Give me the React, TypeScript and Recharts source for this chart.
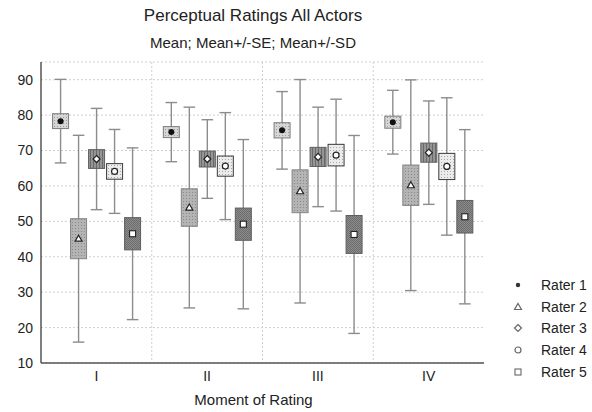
import { ComposedChart, Bar, XAxis, YAxis, CartesianGrid } from 'recharts'

const moments = ['I', 'II', 'III', 'IV']
const raterNames = ['Rater 1', 'Rater 2', 'Rater 3', 'Rater 4', 'Rater 5']

// mean per moment
const rater1Mean = [78.3, 75.2, 75.7, 78.0]
const rater2Mean = [45.1, 53.9, 58.5, 60.2]
const rater3Mean = [67.6, 67.6, 68.2, 69.4]
const rater4Mean = [64.1, 65.6, 68.7, 65.5]
const rater5Mean = [46.5, 49.2, 46.3, 51.3]

// standard error (box half-height)
const rater1SE = [2.1, 1.55, 2.15, 1.7]
const rater2SE = [5.65, 5.3, 6.05, 5.7]
const rater3SE = [2.65, 2.25, 2.7, 2.7]
const rater4SE = [2.2, 2.85, 3.05, 3.7]
const rater5SE = [4.55, 4.55, 5.35, 4.6]

// standard deviation (whisker half-length)
const rater1SD = [11.8, 8.35, 10.95, 9.0]
const rater2SD = [29.2, 28.35, 31.55, 29.75]
const rater3SD = [14.3, 11.1, 14.05, 14.6]
const rater4SD = [11.85, 15.1, 15.8, 19.4]
const rater5SD = [24.25, 23.9, 27.95, 24.6]

const yTicks = [10, 20, 30, 40, 50, 60, 70, 80, 90]

const means = [rater1Mean, rater2Mean, rater3Mean, rater4Mean, rater5Mean]
const ses = [rater1SE, rater2SE, rater3SE, rater4SE, rater5SE]
const sds = [rater1SD, rater2SD, rater3SD, rater4SD, rater5SD]

const data = moments.map((name, i) => ({
  name,
  mean: means.map((m) => m[i]),
  se: ses.map((s) => s[i]),
  sd: sds.map((s) => s[i]),
}))

const boxStroke = ['#7c7c7c', '#858585', '#5e5e5e', '#3a3a3a', '#5e5e5e']
const whiskerColor = '#8c8c8c'
const frameColor = '#555'
const font = 'Arial, "Liberation Sans", sans-serif'

function Marker({ kind, cx, cy, legend }: { kind: number; cx: number; cy: number; legend?: boolean }) {
  const stroke = legend ? '#666' : '#222'
  const fill = legend ? 'none' : '#fff'
  if (kind === 0) return <circle cx={cx} cy={cy} r={legend ? 2.2 : 3} fill={legend ? '#333' : '#111'} />
  if (kind === 1)
    return (
      <polygon
        points={`${cx},${cy - 3.5} ${cx + 3.5},${cy + 2.5} ${cx - 3.5},${cy + 2.5}`}
        fill={fill}
        stroke={stroke}
        strokeWidth={1.2}
      />
    )
  if (kind === 2)
    return (
      <polygon
        points={`${cx},${cy - 3.5} ${cx + 3.5},${cy} ${cx},${cy + 3.5} ${cx - 3.5},${cy}`}
        fill={fill}
        stroke={stroke}
        strokeWidth={1.2}
      />
    )
  if (kind === 3) return <circle cx={cx} cy={cy} r={3} fill={fill} stroke={stroke} strokeWidth={1.2} />
  return <rect x={cx - 3} y={cy - 3} width={6} height={6} fill={fill} stroke={stroke} strokeWidth={1.1} />
}

function makeShape(k: number) {
  return (props: any) => {
    const { x, y, width, height, payload } = props
    if (!payload || width == null) return <g />
    const mean = payload.mean[k]
    const se = payload.se[k]
    const sd = payload.sd[k]
    const hi = mean + sd
    const lo = mean - sd
    const top = Math.min(y, y + height)
    const h = Math.abs(height)
    const py = (v: number) => top + ((hi - v) / (hi - lo)) * h
    const cx = x + width / 2
    const cap = width * 0.34
    const boxTop = py(mean + se)
    const boxBot = py(mean - se)
    return (
      <g>
        <line x1={cx} x2={cx} y1={top} y2={top + h} stroke={whiskerColor} strokeWidth={1.4} />
        <line x1={cx - cap} x2={cx + cap} y1={top} y2={top} stroke={whiskerColor} strokeWidth={1.4} />
        <line x1={cx - cap} x2={cx + cap} y1={top + h} y2={top + h} stroke={whiskerColor} strokeWidth={1.4} />
        <rect
          x={x + 0.5}
          y={boxTop}
          width={width - 1}
          height={boxBot - boxTop}
          fill={`url(#pat${k})`}
          stroke={boxStroke[k]}
          strokeWidth={1}
        />
        <Marker kind={k} cx={cx} cy={py(mean)} />
      </g>
    )
  }
}

// vertical grid lines sit on the boundaries between moments
function boundaryLines(props: any) {
  const { xAxis, offset } = props
  const scale = xAxis && xAxis.scale
  if (scale && typeof scale === 'function' && typeof scale.bandwidth === 'function') {
    return moments.slice(1).map((m) => scale(m))
  }
  return moments.slice(1).map((_, i) => offset.left + (offset.width * (i + 1)) / moments.length)
}

export default function App() {
  return (
    <div
      style={{
        position: 'absolute',
        left: 0,
        top: 0,
        width: 592,
        height: 412,
        background: '#fff',
        fontFamily: font,
        color: '#222',
      }}
    >
      <div style={{ position: 'absolute', left: 0, width: 506, top: 6, textAlign: 'center', fontSize: 17 }}>
        Perceptual Ratings All Actors
      </div>
      <div style={{ position: 'absolute', left: 0, width: 506, top: 34, textAlign: 'center', fontSize: 15 }}>
        Mean; Mean+/-SE; Mean+/-SD
      </div>
      <ComposedChart
        width={592}
        height={412}
        data={data}
        margin={{ top: 62, right: 108, bottom: 0, left: 5 }}
        barCategoryGap="10%"
        barGap={1}
      >
        <defs>
          <pattern id="pat0" width="3" height="3" patternUnits="userSpaceOnUse">
            <rect width="3" height="3" fill="#d6d6d6" />
            <rect width="1" height="1" fill="#9a9a9a" />
          </pattern>
          <pattern id="pat1" width="3" height="3" patternUnits="userSpaceOnUse">
            <rect width="3" height="3" fill="#b4b4b4" />
            <rect width="1" height="1" fill="#8a8a8a" />
          </pattern>
          <pattern id="pat2" width="3" height="3" patternUnits="userSpaceOnUse">
            <rect width="3" height="3" fill="#959595" />
            <rect width="1" height="3" fill="#6a6a6a" />
          </pattern>
          <pattern id="pat3" width="3" height="3" patternUnits="userSpaceOnUse">
            <rect width="3" height="3" fill="#ececec" />
            <rect width="1" height="1" fill="#a8a8a8" />
          </pattern>
          <pattern id="pat4" width="2" height="2" patternUnits="userSpaceOnUse">
            <rect width="2" height="2" fill="#8c8c8c" />
            <rect width="1" height="1" fill="#6c6c6c" />
            <rect x="1" y="1" width="1" height="1" fill="#6c6c6c" />
          </pattern>
        </defs>
        <CartesianGrid
          xAxisId="cat"
          stroke="#cfcfcf"
          strokeDasharray="2 2"
          verticalCoordinatesGenerator={boundaryLines}
        />
        <XAxis
          xAxisId="cat"
          dataKey="name"
          tickLine={false}
          axisLine={{ stroke: frameColor, strokeWidth: 1.5 }}
          tick={{ fontSize: 14, fill: '#222' }}
          height={49}
          label={{ value: 'Moment of Rating', position: 'insideBottom', offset: 7, dx: -9, fontSize: 15, fill: '#222' }}
        />
        <XAxis
          xAxisId="top"
          dataKey="name"
          orientation="top"
          height={0}
          tick={false}
          tickLine={false}
          axisLine={{ stroke: frameColor, strokeWidth: 1.5 }}
        />
        <YAxis
          domain={[10, 95]}
          ticks={yTicks}
          width={36}
          tickLine={false}
          axisLine={{ stroke: frameColor, strokeWidth: 1.5 }}
          tick={{ fontSize: 14, fill: '#222' }}
        />
        <YAxis
          yAxisId="right"
          orientation="right"
          domain={[10, 95]}
          width={0}
          tick={false}
          tickLine={false}
          axisLine={{ stroke: frameColor, strokeWidth: 1.5 }}
        />
        {raterNames.map((name, k) => (
          <Bar
            key={name}
            name={name}
            xAxisId="cat"
            dataKey={(d: any) => [d.mean[k] - d.sd[k], d.mean[k] + d.sd[k]]}
            shape={makeShape(k)}
            isAnimationActive={false}
          />
        ))}
      </ComposedChart>
      <div style={{ position: 'absolute', left: 510, top: 274 }}>
        {raterNames.map((name, k) => (
          <div key={name} style={{ display: 'flex', alignItems: 'center', height: 21.7, fontSize: 14 }}>
            <svg width={24} height={12} style={{ marginRight: 7 }}>
              <Marker kind={k} cx={8} cy={6} legend />
            </svg>
            <span>{name}</span>
          </div>
        ))}
      </div>
    </div>
  )
}
